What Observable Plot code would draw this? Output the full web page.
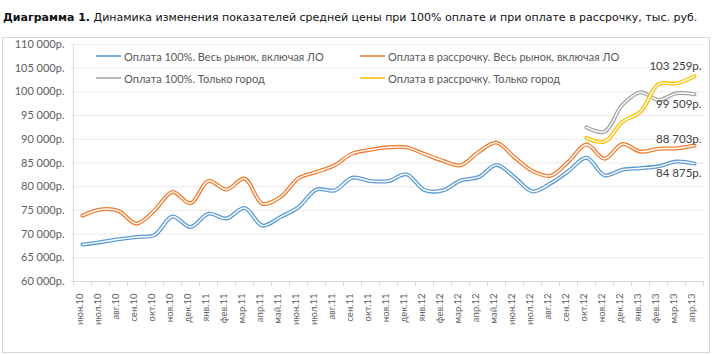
<!DOCTYPE html>
<html>
<head>
<meta charset="utf-8">
<script src="https://cdn.jsdelivr.net/npm/d3@7"></script>
<script src="https://cdn.jsdelivr.net/npm/@observablehq/plot@0.6"></script>
<style>
  body { margin: 0; background: #fff; width: 713px; height: 355px; overflow: hidden; position: relative; }
  #title { position: absolute; left: 3px; top: 11px; font: 11px "DejaVu Sans", sans-serif; color: #111; white-space: nowrap; }
  #frame { position: absolute; left: 2px; top: 37px; width: 706px; height: 314px; border: 1px solid #d9d9d9; }
  #chart { position: absolute; left: 3px; top: 38px; }
  .leg { position: absolute; display: flex; align-items: center; height: 14px; font: 11px Lato, sans-serif; color: #595959; white-space: nowrap; }
  .leg svg { margin-right: 3px; }
</style>
</head>
<body>
<div id="title"><b>Диаграмма 1.</b> Динамика изменения показателей средней цены при 100% оплате и при оплате в рассрочку, тыс. руб.</div>
<div id="frame"></div>
<div id="chart"></div>
<div id="legend"></div>
<script>
const months = ["июн.10","июл.10","авг.10","сен.10","окт.10","ноя.10","дек.10","янв.11","фев.11","мар.11","апр.11","май.11","июн.11","июл.11","авг.11","сен.11","окт.11","ноя.11","дек.11","янв.12","фев.12","мар.12","апр.12","май.12","июн.12","июл.12","авг.12","сен.12","окт.12","ноя.12","дек.12","янв.13","фев.13","мар.13","апр.13"];

const seriesNames = ["Оплата 100%. Весь рынок, включая ЛО", "Оплата в рассрочку. Весь рынок, включая ЛО", "Оплата 100%. Только город", "Оплата в рассрочку. Только город"];
const seriesColors = ["#5b9bd5", "#ed7d31", "#a5a5a5", "#ffc000"];

const full100 = [67800,68300,68900,69400,69800,73700,71500,74300,73300,75500,71800,73600,75700,79400,79200,81900,81200,81200,82600,79300,79200,81300,82000,84600,82000,79000,80700,83300,86100,82400,83600,83900,84300,85300,84875];
const fullInst = [73900,75200,74900,72200,75000,78900,76500,81200,79400,81700,76400,77800,81800,83100,84500,87000,87800,88300,88300,86900,85500,84500,87300,89300,86200,83300,82300,85300,88900,85900,89000,87400,88000,88100,88703];
const city100 = [null,null,null,null,null,null,null,null,null,null,null,null,null,null,null,null,null,null,null,null,null,null,null,null,null,null,null,null,92500,91600,97300,99900,98300,99700,99509];
const cityInst = [null,null,null,null,null,null,null,null,null,null,null,null,null,null,null,null,null,null,null,null,null,null,null,null,null,null,null,null,90300,89500,93700,95800,101600,101800,103259];

const yTicks = [60000,65000,70000,75000,80000,85000,90000,95000,100000,105000,110000];

const allSeries = [full100, fullInst, city100, cityInst];
const fmt = v => d3.format(",")(v).replace(/,/g, " ") + "р.";

const W = 706, H = 314, ml = 68, mr = 5, mt = 6, mb = 71;
const frameH = H - mt - mb;
const step = (W - ml - mr) / months.length;

const tidy = allSeries.map((arr, s) => arr.map((v, i) => ({month: months[i], value: v, s})).filter(d => d.value != null));

const lineMarks = [];
tidy.forEach((data, s) => {
  lineMarks.push(Plot.line(data, {x: "month", y: "value", stroke: seriesColors[s], strokeWidth: 4, curve: "catmull-rom"}));
  lineMarks.push(Plot.line(data, {x: "month", y: "value", stroke: "white", strokeWidth: 1.4, curve: "catmull-rom"}));
});

const last = i => tidy[i][tidy[i].length - 1];
const endLabel = (i, dy) => Plot.text([last(i)], {x: "month", y: "value", text: d => fmt(d.value), textAnchor: "end", dx: 7, dy, fontSize: 11.5, fill: "#404040"});

const chart = Plot.plot({
  width: W, height: H, marginLeft: ml, marginRight: mr, marginTop: mt, marginBottom: mb,
  style: {fontFamily: "Lato, sans-serif", background: "transparent", overflow: "visible"},
  x: {type: "point", domain: months, padding: 0.5, axis: null},
  y: {domain: [60000, 110000], axis: null},
  marks: [
    Plot.ruleY(yTicks.slice(1), {stroke: "#ebebeb"}),
    Plot.ruleY([60000], {stroke: "#d9d9d9"}),
    Plot.ruleX([months[0]], {dx: -step / 2, stroke: "#d9d9d9"}),
    Plot.ruleX(months, {dx: -step / 2, insetTop: frameH, insetBottom: -5, stroke: "#d9d9d9"}),
    Plot.ruleX([months[months.length - 1]], {dx: step / 2, insetTop: frameH, insetBottom: -5, stroke: "#d9d9d9"}),
    Plot.text(yTicks, {y: d => d, frameAnchor: "left", dx: -7, textAnchor: "end", text: fmt, fontSize: 11, fill: "#606060"}),
    Plot.text(months, {x: d => d, frameAnchor: "bottom", dy: 12, rotate: -90, textAnchor: "end", text: d => d, fontSize: 9.5, fill: "#606060"}),
    ...lineMarks,
    endLabel(3, -10.5),
    endLabel(2, 10.5),
    endLabel(1, -6),
    endLabel(0, 10)
  ]
});
document.getElementById("chart").appendChild(chart);

const legPos = [[96, 49], [360, 49], [96, 71], [360, 71]];
const legend = document.getElementById("legend");
seriesNames.forEach((name, i) => {
  const div = document.createElement("div");
  div.className = "leg";
  div.style.left = legPos[i][0] + "px";
  div.style.top = legPos[i][1] + "px";
  div.innerHTML = `<svg width="25" height="4"><line x1="0" x2="25" y1="2" y2="2" stroke="${seriesColors[i]}" stroke-width="2" stroke-opacity="0.8"/></svg><span>${name}</span>`;
  legend.appendChild(div);
});
</script>
</body>
</html>
